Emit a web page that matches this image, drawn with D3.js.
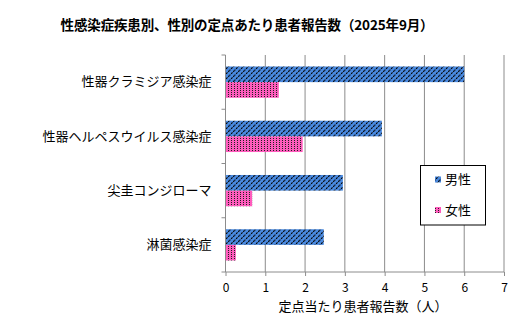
<!DOCTYPE html>
<html><head><meta charset="utf-8">
<script src="https://cdn.jsdelivr.net/npm/d3@7"></script>
<style>
html,body{margin:0;padding:0;background:#fff;}
svg{display:block;font-family:"Noto Sans CJK JP","Noto Sans",sans-serif;}
</style></head>
<body><svg id="chart" width="529" height="332"></svg>
<script>
const title = "性感染症疾患別、性別の定点あたり患者報告数（2025年9月）";
const categories = ["性器クラミジア感染症","性器ヘルペスウイルス感染症","尖圭コンジローマ","淋菌感染症"];
const seriesNames = ["男性","女性"];
const male = [6.0, 3.93, 2.95, 2.47];
const female = [1.34, 1.94, 0.67, 0.26];
const xTicks = [0,1,2,3,4,5,6,7];
const xTitle = "定点当たり患者報告数（人）";

const svg = d3.select("#chart");
const L = 225.5, R = 504, T = 55, B = 272;

const defs = svg.append("defs");
const pm = defs.append("pattern").attr("id","pMale").attr("patternUnits","userSpaceOnUse")
  .attr("width",5).attr("height",5);
pm.append("rect").attr("width",5).attr("height",5).attr("fill","#4a8ae0");
pm.append("path").attr("d","M-1,6 L6,-1 M-1,1 L1,-1 M4,6 L6,4").attr("stroke","#000").attr("stroke-width",1.1).attr("stroke-dasharray","2,1");
const pf = defs.append("pattern").attr("id","pFemale").attr("patternUnits","userSpaceOnUse")
  .attr("width",3).attr("height",2);
pf.append("rect").attr("width",3).attr("height",2).attr("fill","#ff5cbd");
pf.append("rect").attr("x",0).attr("y",0).attr("width",1).attr("height",1).attr("fill","#222");

const x = d3.scaleLinear().domain([0,7]).range([L,R]);
const y = d3.scaleBand().domain(categories).range([T,B]);
const inner = d3.scaleBand().domain(seriesNames).range([0,31.3]);
const pad = (y.bandwidth()-31.3)/2;

// gridlines
svg.append("g").selectAll("line").data(xTicks.slice(1)).join("line")
  .attr("x1",d=>x(d)).attr("x2",d=>x(d)).attr("y1",T).attr("y2",B)
  .attr("stroke","#8c8c8c").attr("stroke-width",1);

// bars
const data = categories.map((c,i)=>({c, vals:[male[i],female[i]]}));
const g = svg.append("g");
data.forEach(d=>{
  d.vals.forEach((v,j)=>{
    g.append("rect").attr("x",x(0)).attr("y",y(d.c)+pad+inner(seriesNames[j]))
      .attr("width",x(v)-x(0)).attr("height",inner.bandwidth())
      .attr("fill", j===0?"url(#pMale)":"url(#pFemale)");
  });
});

// x axis
const xa = svg.append("g").attr("transform",`translate(0,${B})`)
  .call(d3.axisBottom(x).tickValues(xTicks).tickFormat(d3.format("d")).tickSize(4).tickPadding(7));
xa.select(".domain").attr("stroke","#8c8c8c").attr("d",`M${L},0H${R}`);
xa.selectAll(".tick line").attr("stroke","#8c8c8c");
xa.selectAll("text").attr("font-size",12).attr("fill","#000").attr("font-family","'Noto Sans CJK JP'");

// y axis
const ya = svg.append("g").attr("transform",`translate(${L},0)`)
  .call(d3.axisLeft(y).tickSize(0).tickPadding(14));
ya.select(".domain").attr("stroke","#8c8c8c").attr("d",`M0,${T}V${B}`);
ya.selectAll("text").attr("font-size",13).attr("fill","#000").attr("font-family","'Noto Sans CJK JP'");
svg.append("g").selectAll("line").data(d3.range(categories.length+1)).join("line")
  .attr("x1",L-4).attr("x2",L).attr("y1",i=>T+i*y.step()).attr("y2",i=>T+i*y.step())
  .attr("stroke","#8c8c8c");

// title
svg.append("text").attr("x",247).attr("y",30).attr("text-anchor","middle")
  .attr("font-size",13.5).attr("font-weight","bold").attr("letter-spacing",-0.15).text(title);

// x title
svg.append("text").attr("x",363).attr("y",311).attr("text-anchor","middle")
  .attr("font-size",13).text(xTitle);

// legend
const lg = svg.append("g");
lg.append("rect").attr("x",420.5).attr("y",165.5).attr("width",65).attr("height",59.5)
  .attr("fill","#fff").attr("stroke","#000");
seriesNames.forEach((s,i)=>{
  const cy = 179.5 + i*30.5;
  lg.append("rect").attr("x",435).attr("y",cy-3).attr("width",6).attr("height",6)
    .attr("fill", i===0?"url(#pMale)":"url(#pFemale)");
  lg.append("text").attr("x",445).attr("y",cy+4.5).attr("font-size",13).text(s);
});
</script></body></html>
